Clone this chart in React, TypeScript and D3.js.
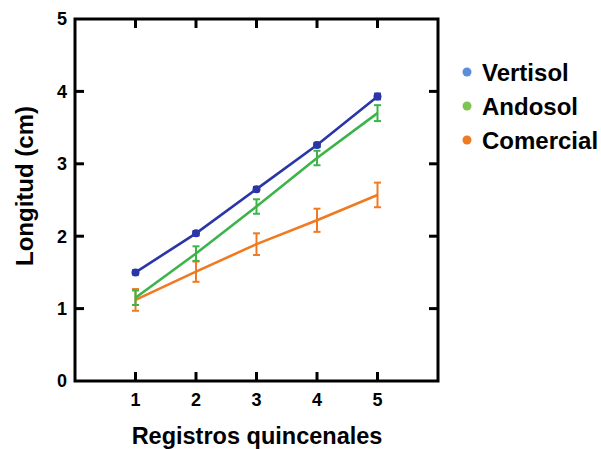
import * as d3 from "d3";

const registros = [1, 2, 3, 4, 5];
const vertisol = [1.5, 2.04, 2.65, 3.26, 3.93];
const vertisolErr = [0.03, 0.03, 0.03, 0.03, 0.04];
const andosol = [1.15, 1.76, 2.41, 3.08, 3.7];
const andosolErr = [0.1, 0.1, 0.1, 0.1, 0.11];
const comercial = [1.12, 1.51, 1.89, 2.22, 2.57];
const comercialErr = [0.15, 0.14, 0.15, 0.16, 0.17];
const yTicks = [0, 1, 2, 3, 4, 5];

const series = [
  { name: "Vertisol", values: vertisol, err: vertisolErr, line: "#2a36a8", dot: "#5b8fd8", marker: true },
  { name: "Andosol", values: andosol, err: andosolErr, line: "#3cb44a", dot: "#7dc452", marker: false },
  { name: "Comercial", values: comercial, err: comercialErr, line: "#f07a22", dot: "#f07a22", marker: false },
];

const W = 601;
const H = 449;
const M = { left: 75, top: 19, right: 438, bottom: 381 };
const FONT = "Liberation Sans, Arial, sans-serif";

export default function App() {
  const x = d3.scaleLinear().domain([0, 6]).range([M.left, M.right]);
  const y = d3.scaleLinear().domain([0, 5]).range([M.bottom, M.top]);
  const line = d3
    .line<number>()
    .x((_, i) => x(registros[i]))
    .y((d) => y(d));
  const tick = 9;

  return (
    <svg width={W} height={H} style={{ position: "absolute", left: 0, top: 0, background: "#fff" }}>
      {/* series back to front: comercial, andosol, vertisol */}
      {[...series].reverse().map((s) => (
        <g key={s.name}>
          <path d={line(s.values) ?? ""} fill="none" stroke={s.line} strokeWidth={2.6} />
          {s.values.map((v, i) => {
            const cx = x(registros[i]);
            const y1 = y(v + s.err[i]);
            const y2 = y(v - s.err[i]);
            return (
              <g key={i} stroke={s.line} strokeWidth={2}>
                <line x1={cx} x2={cx} y1={y1} y2={y2} />
                <line x1={cx - 3.5} x2={cx + 3.5} y1={y1} y2={y1} />
                <line x1={cx - 3.5} x2={cx + 3.5} y1={y2} y2={y2} />
              </g>
            );
          })}
          {s.marker &&
            s.values.map((v, i) => (
              <circle key={"m" + i} cx={x(registros[i])} cy={y(v)} r={4} fill={s.line} />
            ))}
        </g>
      ))}

      {/* frame */}
      <rect
        x={M.left}
        y={M.top}
        width={M.right - M.left}
        height={M.bottom - M.top}
        fill="none"
        stroke="#000"
        strokeWidth={3}
      />
      {registros.map((t) => (
        <g key={"xt" + t} stroke="#000" strokeWidth={3}>
          <line x1={x(t)} x2={x(t)} y1={M.bottom} y2={M.bottom - tick} />
          <line x1={x(t)} x2={x(t)} y1={M.top} y2={M.top + tick} />
        </g>
      ))}
      {yTicks.slice(1, -1).map((t) => (
        <g key={"yt" + t} stroke="#000" strokeWidth={3}>
          <line x1={M.left} x2={M.left + tick} y1={y(t)} y2={y(t)} />
          <line x1={M.right} x2={M.right - tick} y1={y(t)} y2={y(t)} />
        </g>
      ))}

      {/* tick labels */}
      {registros.map((t) => (
        <text
          key={"xl" + t}
          x={x(t)}
          y={M.bottom + 25}
          textAnchor="middle"
          fontFamily={FONT}
          fontWeight="bold"
          fontSize={18}
        >
          {t}
        </text>
      ))}
      {yTicks.map((t) => (
        <text
          key={"yl" + t}
          x={M.left - 8}
          y={y(t)}
          dy="0.35em"
          textAnchor="end"
          fontFamily={FONT}
          fontWeight="bold"
          fontSize={18}
        >
          {t}
        </text>
      ))}

      {/* axis titles */}
      <text
        x={257}
        y={444}
        textAnchor="middle"
        fontFamily={FONT}
        fontWeight="bold"
        fontSize={23.5}
      >
        Registros quincenales
      </text>
      <text
        transform={`translate(33, 186) rotate(-90)`}
        textAnchor="middle"
        fontFamily={FONT}
        fontWeight="bold"
        fontSize={24}
      >
        Longitud (cm)
      </text>

      {/* legend */}
      {series.map((s, i) => (
        <g key={"lg" + s.name} transform={`translate(467, ${72 + i * 34})`}>
          <circle r={4.5} fill={s.dot} />
          <text x={15} dy="0.36em" fontFamily={FONT} fontWeight="bold" fontSize={24}>
            {s.name}
          </text>
        </g>
      ))}
    </svg>
  );
}
